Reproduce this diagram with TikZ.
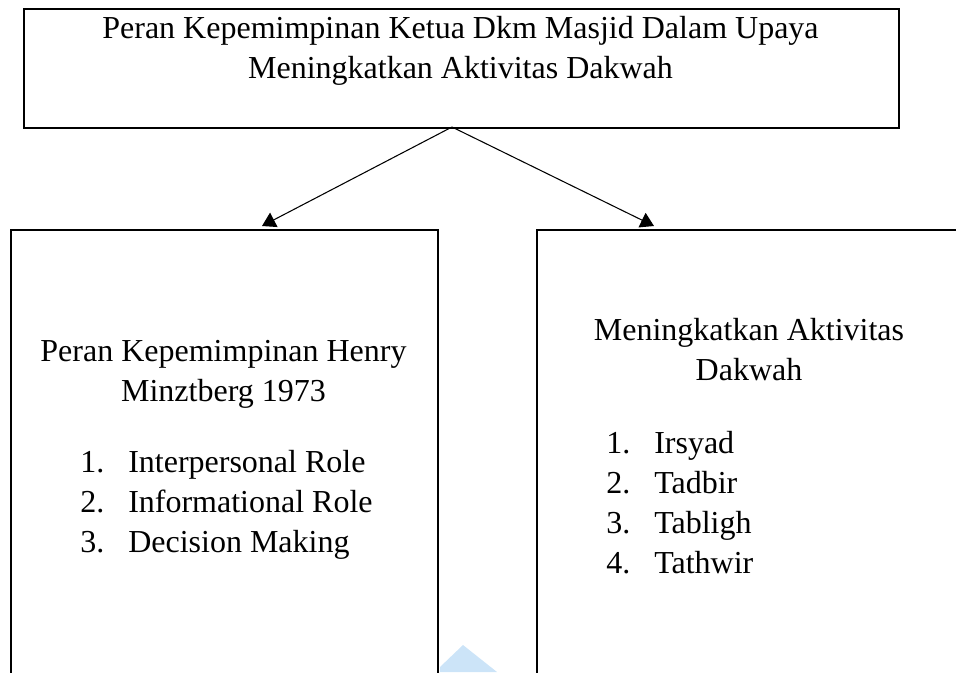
\documentclass[tikz,border=0pt]{standalone}
\usepackage{fontspec}
\setmainfont{Liberation Serif}
\usetikzlibrary{arrows.meta}
\tikzset{
  panel/.style={draw, line width=1.5pt, inner sep=0pt, anchor=north west},
  teks/.style={inner sep=0pt, align=center, font=\fontsize{24}{30}\selectfont},
  link/.style={line width=0.8pt, -{Triangle[width=12pt,length=10pt]}}
}
\definecolor{wmblue}{RGB}{204,228,248}

\begin{document}
\begin{tikzpicture}[x=0.75pt,y=0.75pt,yscale=-1,xscale=1]
\useasboundingbox (0,0) rectangle (956,672);
\clip (0,0) rectangle (956,672);

%Shape: Triangle [watermark]
\fill [wmblue] (440,672) -- (440,667) -- (463,645) -- (497,672) -- cycle ;

%Shape: Rectangle [ketua]
\node [panel, minimum width=875*0.75pt, minimum height=119*0.75pt] (ketua) at (23,8) {};
%Shape: Rectangle [henry]
\node [panel, minimum width=427*0.75pt, minimum height=480*0.75pt] (henry) at (10,229) {};
%Shape: Rectangle [dakwah]
\node [panel, minimum width=426*0.75pt, minimum height=480*0.75pt] (dakwah) at (536,229) {};

% Text Node
\node [teks, anchor=base] (judul) at (460.5,78) {Peran Kepemimpinan Ketua Dkm Masjid Dalam Upaya\\Meningkatkan Aktivitas Dakwah};
% Text Node
\node [teks, anchor=base] (henryjudul) at (223.5,401.7) {Peran Kepemimpinan Henry\\Minztberg 1973};
% Text Node
\node [teks, anchor=base west] (henrylist) at (80,472.2) {\begin{tabular}[t]{@{}l@{\hspace{18pt}}l@{}}
1. & Interpersonal Role\\
2. & Informational Role\\
3. & Decision Making
\end{tabular}};
% Text Node
\node [teks, anchor=base] (dakwahjudul) at (749,380) {Meningkatkan Aktivitas\\Dakwah};
% Text Node
\node [teks, anchor=base west] (dakwahlist) at (606,453.4) {\begin{tabular}[t]{@{}l@{\hspace{18pt}}l@{}}
1. & Irsyad\\
2. & Tadbir\\
3. & Tabligh\\
4. & Tathwir
\end{tabular}};

%Straight Lines [arrows]
\coordinate (apex) at (452,127);
\coordinate (tipL) at (262,226);
\coordinate (tipR) at (654,226);
\draw [link] (apex) -- (tipL) ;
\draw [link] (apex) -- (tipR) ;

\end{tikzpicture}
\end{document}
